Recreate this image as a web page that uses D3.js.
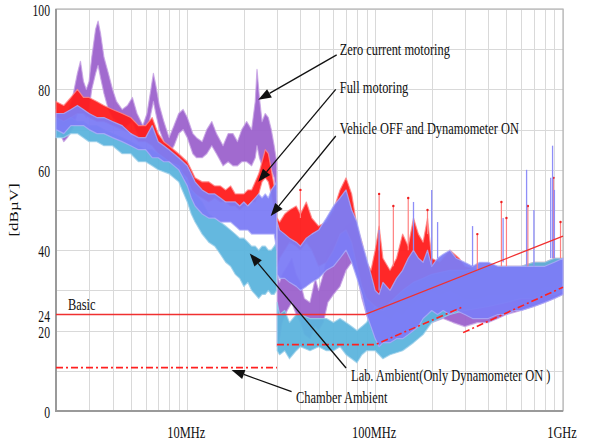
<!DOCTYPE html>
<html lang="en">
<head>
  <meta charset="utf-8">
  <title>Emission spectra</title>
  <script src="https://cdn.jsdelivr.net/npm/d3@7/dist/d3.min.js"></script>
  <style>
    body { margin: 0; background: #fff; }
    text { font-family: "Liberation Serif", "Times New Roman", serif; fill: #111; }
  </style>
</head>
<body>
  <script>
    // axis ticks
    var freqTicks = [10, 100, 1000];
    var freqLabels = ["10MHz", "100MHz", "1GHz"];
    var levelTicks = [0, 20, 24, 40, 60, 80, 100];

    // each row: [MHz, low dBuV, high dBuV]
    var zeroLF = [
      [2.0, 68, 75], [2.1, 69, 74], [2.2, 67, 73], [2.3, 68, 74], [2.45, 70, 78], [2.6, 74, 84],
      [2.7, 75, 87], [2.8, 74, 82], [2.9, 73, 80], [3.0, 75, 82], [3.1, 80, 88], [3.25, 84, 95],
      [3.35, 86, 97], [3.45, 83, 94], [3.6, 79, 88], [3.8, 75, 84], [4.0, 73, 80], [4.2, 72, 77],
      [4.5, 70, 75], [4.8, 71, 76], [5.1, 72, 78], [5.4, 69, 74], [5.8, 67, 71], [6.1, 69, 74],
      [6.4, 74, 80], [6.6, 77, 84], [6.8, 74, 81], [7.1, 70, 76], [7.5, 67, 72], [8.0, 64, 68],
      [8.5, 66, 71], [9.0, 69, 74], [9.5, 70, 75], [10.0, 68, 73], [10.7, 64, 69], [11.2, 63, 68],
      [12.0, 63, 67], [12.7, 64, 70], [13.5, 66, 72], [14.3, 64, 69], [15.5, 61, 66], [16.5, 62, 69],
      [17.5, 61, 69], [18.5, 61, 67], [19.5, 62, 70], [20.7, 62, 72], [22.0, 61, 70], [23.0, 63, 77],
      [23.5, 66, 85], [24.2, 63, 78], [25.0, 61, 72], [26.0, 62, 74], [27.0, 62, 73], [28.0, 60, 70],
      [29.0, 58, 66], [29.9, 52, 62]
    ];
    var zeroHF = [
      [30.1, 16, 34], [31, 18, 32], [32, 22, 34], [34, 25, 36], [36, 27, 38], [38, 24, 34],
      [40, 22, 32], [42, 19, 28], [45, 18, 27], [48, 21, 33], [50, 20, 30], [53, 22, 34],
      [56, 27, 40], [60, 29, 42], [65, 31, 44], [70, 35, 46], [75, 37, 47], [80, 34, 44],
      [85, 28, 40], [90, 24, 34], [95, 21, 32], [100, 19, 30], [110, 18, 30], [120, 17, 29],
      [135, 18, 28], [150, 20, 30], [170, 22, 32], [200, 22, 31], [230, 23, 32], [260, 22, 30],
      [300, 21, 29], [350, 22, 30], [400, 22, 30], [450, 23, 31], [500, 24, 32], [600, 25, 33],
      [700, 26, 34], [800, 27, 34], [900, 28, 35], [1000, 29, 36]
    ];
    var fullLF = [
      [2.0, 72, 77], [2.2, 71, 76], [2.4, 73, 78], [2.6, 74, 80], [2.8, 74, 78], [3.0, 73, 78],
      [3.3, 72, 77], [3.6, 72, 76], [4.0, 71, 75], [4.5, 70, 74], [5.0, 69, 73], [5.5, 67, 71],
      [6.0, 67, 71], [6.5, 66, 73], [7.0, 64, 69], [7.5, 63, 67], [8.0, 62, 66], [9.0, 60, 64],
      [10.0, 58, 62], [10.5, 55, 60], [11.0, 54, 58], [12.0, 53, 57], [13.0, 52, 57], [14.0, 53, 56],
      [15.0, 52, 56], [16.0, 52, 55], [17.0, 51, 56], [18.0, 51, 54], [19.0, 50, 54], [20.0, 51, 54],
      [21.0, 51, 55], [22.0, 52, 55], [23.0, 52, 57], [24.0, 54, 59], [25.0, 57, 62], [26.0, 58, 65],
      [27.0, 57, 64], [28.0, 54, 60], [29.0, 50, 56], [29.9, 46, 52]
    ];
    var fullHF = [
      [30.1, 36, 48], [31, 38, 47], [33, 40, 49], [35, 42, 50], [38, 41, 51], [40, 40, 49],
      [43, 42, 52], [46, 40, 48], [50, 36, 46], [55, 37, 47], [60, 40, 50], [65, 44, 55],
      [70, 45, 58], [75, 42, 54], [80, 36, 46], [85, 31, 42], [90, 28, 37], [95, 27, 35],
      [100, 26, 40], [105, 24, 46], [110, 24, 38], [120, 23, 35], [130, 25, 38], [140, 24, 44],
      [150, 26, 41], [160, 27, 48], [170, 28, 44], [180, 27, 42], [190, 30, 48], [200, 30, 38],
      [220, 29, 37], [250, 30, 40], [280, 29, 38], [300, 28, 36], [350, 28, 35], [400, 29, 35],
      [450, 29, 36], [500, 29, 36], [600, 29, 36], [700, 30, 37], [800, 31, 37], [900, 31, 38],
      [1000, 32, 38]
    ];
    var vehicleLF = [
      [2.0, 70, 74], [2.2, 69, 74], [2.4, 71, 75], [2.6, 71, 76], [2.8, 71, 75], [3.0, 70, 74],
      [3.3, 69, 73], [3.6, 69, 73], [4.0, 68, 72], [4.5, 67, 71], [5.0, 66, 69], [5.5, 65, 68],
      [6.0, 65, 68], [6.5, 63, 71], [7.0, 63, 67], [7.5, 62, 66], [8.0, 62, 65], [9.0, 60, 63],
      [10.0, 56, 61], [10.5, 53, 59], [11.0, 51, 57], [12.0, 49, 55], [13.0, 48, 54], [14.0, 48, 54],
      [15.0, 47, 53], [16.0, 47, 52], [17.0, 47, 52], [18.0, 46, 52], [19.0, 45, 51], [20.0, 45, 52],
      [21.0, 45, 51], [22.0, 44, 52], [23.0, 44, 53], [24.0, 44, 54], [25.0, 44, 53], [26.0, 44, 54],
      [27.0, 44, 53], [28.0, 44, 55], [29.0, 44, 56], [29.9, 40, 57]
    ];
    var vehicleHF = [
      [30.1, 34, 47], [31, 33, 45], [33, 33, 44], [35, 32, 43], [38, 31, 42], [40, 30, 41],
      [43, 31, 43], [46, 32, 44], [50, 33, 45], [55, 35, 48], [60, 36, 51], [65, 38, 53],
      [70, 40, 55], [75, 37, 50], [80, 33, 47], [85, 29, 42], [90, 24, 38], [95, 21, 34],
      [100, 18, 30], [105, 16, 29], [110, 17, 32], [120, 17, 30], [130, 18, 33], [140, 18, 35],
      [150, 19, 38], [160, 20, 40], [170, 21, 38], [180, 23, 37], [190, 24, 40], [200, 25, 36],
      [215, 24, 38], [230, 25, 39], [250, 24, 40], [270, 25, 38], [300, 24, 37], [330, 23, 36],
      [360, 23, 37], [400, 23, 37], [450, 24, 36], [500, 24, 36], [550, 25, 36], [600, 25, 36],
      [700, 26, 36], [800, 27, 36], [900, 28, 37], [1000, 29, 38]
    ];
    var labLF = [
      [2.0, 68, 73], [2.2, 68, 72], [2.4, 69, 73], [2.6, 69, 72], [2.8, 68, 72], [3.0, 67, 71],
      [3.3, 67, 71], [3.6, 66, 70], [4.0, 66, 69], [4.5, 64, 68], [5.0, 64, 67], [5.5, 62, 66],
      [6.0, 62, 65], [6.5, 61, 65], [7.0, 60, 64], [8.0, 59, 62], [9.0, 57, 61], [10.0, 52, 57],
      [10.5, 49, 55], [11.0, 47, 54], [12.0, 44, 52], [13.0, 42, 49], [14.0, 41, 48], [15.0, 39, 47],
      [16.0, 37, 46], [17.0, 36, 45], [18.0, 34, 44], [19.0, 33, 43], [20.0, 31, 43], [21.0, 32, 42],
      [22.0, 30, 41], [23.0, 29, 41], [24.0, 28, 40], [25.0, 29, 41], [26.0, 29, 41], [27.0, 30, 40],
      [28.0, 29, 40], [29.0, 29, 41], [29.9, 30, 42]
    ];
    var labHF = [
      [30.1, 15, 27], [31, 14, 24], [33, 15, 25], [35, 13, 22], [38, 15, 24], [40, 16, 24],
      [45, 15, 23], [50, 16, 23], [55, 15, 23], [60, 15, 22], [65, 16, 23], [70, 14, 22],
      [75, 13, 21], [80, 12, 20], [85, 14, 21], [90, 15, 22], [100, 15, 26], [110, 13, 25],
      [120, 14, 27], [140, 15, 30], [160, 17, 32], [180, 19, 33], [200, 22, 34], [250, 24, 35],
      [300, 25, 35], [400, 26, 36], [500, 27, 36], [600, 28, 36], [700, 28, 37], [800, 29, 37],
      [900, 29, 38], [1000, 30, 38]
    ];
    // narrow peaks above the bands: [MHz, from, to]
    var fullSpikes = [
      [40, 48, 55], [105, 40, 54], [125, 36, 51], [150, 40, 53], [190, 44, 50], [350, 35, 44],
      [470, 36, 52], [500, 36, 48], [650, 36, 51], [890, 38, 58], [970, 38, 47]
    ];
    var vehicleSpikes = [
      [105, 30, 45], [160, 40, 52], [200, 36, 55], [215, 38, 47], [330, 36, 46], [480, 37, 48],
      [640, 36, 60], [700, 36, 50], [860, 38, 58], [880, 38, 66], [900, 38, 55]
    ];

    // limit lines: [MHz, dBuV]
    var basicLimit = [[2, 24], [88, 24], [1000, 43.5]];
    var chamberLimitLF = [[2, 10.8], [30, 10.8]];
    var chamberLimitHF = [[30, 16.5], [100, 16.5], [290, 25.8]];
    var chamberLimitUHF = [[294, 19.5], [1000, 30.8]];

    var w = 589;
    var h = 442;
    var margin = { top: 9, left: 56, right: 26, bottom: 31 };

    var x = d3.scaleLog().domain([2, 1000]).range([margin.left, w - margin.right]);
    var y = d3.scaleLinear().domain([0, 100]).range([h - margin.bottom, margin.top]);

    var svg = d3.select("body").append("svg")
                .attr("width", w)
                .attr("height", h);

    // condensed serif text (the original figure is squeezed sideways)
    function label(g, px, py, str, size, anchor) {
      return g.append("text")
              .attr("transform", "translate(" + px + "," + py + ") scale(0.73,1)")
              .attr("text-anchor", anchor || "start")
              .style("font-size", size + "px")
              .text(str);
    }

    // grid
    var grid = svg.append("g").attr("stroke", "#d9d9d9").attr("stroke-width", 1);
    grid.selectAll(".vg")
        .data(x.ticks())
        .enter().append("line")
        .attr("x1", function(d) { return Math.round(x(d)) + 0.5; })
        .attr("x2", function(d) { return Math.round(x(d)) + 0.5; })
        .attr("y1", y(100)).attr("y2", y(0));
    grid.selectAll(".hg")
        .data(d3.range(0, 101, 10))
        .enter().append("line")
        .attr("x1", x(2)).attr("x2", x(1000))
        .attr("y1", function(d) { return Math.round(y(d)) + 0.5; })
        .attr("y2", function(d) { return Math.round(y(d)) + 0.5; });

    svg.append("rect")
       .attr("x", x(2)).attr("y", y(100))
       .attr("width", x(1000) - x(2)).attr("height", y(0) - y(100))
       .attr("fill", "none").attr("stroke", "#b5b5b5").attr("stroke-width", 1.2);
    svg.append("path")
       .attr("d", "M" + x(2) + "," + y(100) + "V" + y(0) + "H" + x(1000))
       .attr("fill", "none").attr("stroke", "#9a9a9a").attr("stroke-width", 2);

    // spectra
    var band = d3.area()
                 .x(function(d) { return x(d[0]); })
                 .y0(function(d) { return y(d[1]); })
                 .y1(function(d) { return y(d[2]); });
    var series = [
      { parts: [zeroLF, zeroHF], fill: "#9c62cc", pale: "#c7a2e4" },
      { parts: [fullLF, fullHF], fill: "#ff1c1c", pale: "#ff8a8a" },
      { parts: [labLF, labHF], fill: "#5cb4dd", pale: "#9cd0ea" },
      { parts: [vehicleLF, vehicleHF], fill: "#7c7cf6", pale: "#adadf9" }
    ];
    var spectra = svg.append("g");
    series.forEach(function(s) {
      spectra.selectAll(null)
             .data(s.parts)
             .enter().append("path")
             .attr("d", band)
             .attr("fill", s.fill)
             .attr("fill-opacity", 0.95)
             .attr("stroke", s.pale)
             .attr("stroke-opacity", 0.8)
             .attr("stroke-width", 1.2)
             .attr("stroke-linejoin", "round");
    });
    spectra.selectAll(".fspike")
           .data(fullSpikes)
           .enter().append("line")
           .attr("x1", function(d) { return x(d[0]); })
           .attr("x2", function(d) { return x(d[0]); })
           .attr("y1", function(d) { return y(d[1]); })
           .attr("y2", function(d) { return y(d[2]); })
           .attr("stroke", "#ff8080").attr("stroke-width", 1.2);
    spectra.selectAll(".fdot")
           .data(fullSpikes)
           .enter().append("circle")
           .attr("cx", function(d) { return x(d[0]); })
           .attr("cy", function(d) { return y(d[2]); })
           .attr("r", 1.2).attr("fill", "#ee2020");
    spectra.selectAll(".vspike")
           .data(vehicleSpikes)
           .enter().append("line")
           .attr("x1", function(d) { return x(d[0]); })
           .attr("x2", function(d) { return x(d[0]); })
           .attr("y1", function(d) { return y(d[1]); })
           .attr("y2", function(d) { return y(d[2]); })
           .attr("stroke", "#8e8ef8").attr("stroke-width", 1.3);

    // limits
    var limitLine = d3.line()
                      .x(function(d) { return x(d[0]); })
                      .y(function(d) { return y(d[1]); });
    svg.append("path")
       .attr("d", limitLine(basicLimit))
       .attr("fill", "none").attr("stroke", "#f03030").attr("stroke-width", 1.3);
    svg.selectAll(".chamber")
       .data([chamberLimitLF, chamberLimitHF, chamberLimitUHF])
       .enter().append("path")
       .attr("d", limitLine)
       .attr("fill", "none").attr("stroke", "#ff2020").attr("stroke-width", 1.6)
       .attr("stroke-dasharray", "7,3,2,3");

    // annotations: arrow tip and line start in [MHz, dB], text offset in px
    var notes = [
      { text: "Zero current motoring", tip: [23.85, 77.4], from: [62.4, 88.6], dx: 3, dy: 0 },
      { text: "Full motoring", tip: [23.85, 57.0], from: [61.7, 80.0], dx: 4, dy: 3.5 },
      { text: "Vehicle OFF and Dynamometer ON", tip: [27.8, 48.5], from: [61.7, 68.4], dx: 4, dy: -2.5 },
      { text: "Lab. Ambient(Only Dynamometer ON )", tip: [21.5, 39.2], from: [70.0, 10.7], dx: 5, dy: 13.5 },
      { text: "Chamber Ambient", tip: [17.2, 10.2], from: [35.9, 4.8], dx: 4.5, dy: 11.5 }
    ];
    var ann = svg.append("g");
    notes.forEach(function(n) {
      var x0 = x(n.from[0]), y0 = y(n.from[1]);
      var x1 = x(n.tip[0]), y1 = y(n.tip[1]);
      var a = Math.atan2(y1 - y0, x1 - x0);
      var len = 13, half = 4.8;
      var bx = x1 - len * Math.cos(a), by = y1 - len * Math.sin(a);
      ann.append("line")
         .attr("x1", x0).attr("y1", y0).attr("x2", bx).attr("y2", by)
         .attr("stroke", "#111").attr("stroke-width", 1.3);
      ann.append("path")
         .attr("d", "M" + x1 + "," + y1 +
                    "L" + (bx + half * Math.sin(a)) + "," + (by - half * Math.cos(a)) +
                    "L" + (bx - half * Math.sin(a)) + "," + (by + half * Math.cos(a)) + "Z")
         .attr("fill", "#111");
      label(ann, x0 + n.dx, y0 + n.dy, n.text, 17);
    });
    label(svg, x(2) + 12, y(24) - 5, "Basic", 17);

    // tick labels
    levelTicks.forEach(function(t) {
      label(svg, margin.left - 6, y(t) + 7, String(t), 16, "end");
    });
    freqTicks.forEach(function(t, i) {
      label(svg, x(t) - 1, h - 4, freqLabels[i], 17, "middle");
    });
    svg.append("text")
       .attr("transform", "translate(18,210) rotate(-90) scale(1,0.73)")
       .attr("text-anchor", "middle")
       .style("font-size", "17px")
       .text("[dB\u00b5V]");
  </script>
</body>
</html>
